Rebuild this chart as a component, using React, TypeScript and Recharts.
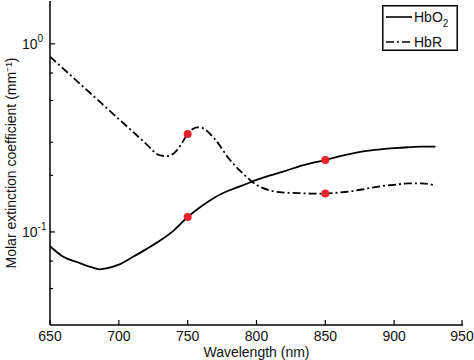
import { ComposedChart, Line, Scatter, XAxis, YAxis } from 'recharts'

// absorption spectra (mm^-1)
const hbo2Wavelengths = [650, 660, 670, 680, 686, 690, 700, 710, 720, 730, 740, 750, 760, 770, 780, 790, 800, 810, 820, 830, 840, 850, 860, 870, 880, 890, 900, 910, 920, 930]
const hbo2Values = [0.084, 0.0735, 0.069, 0.065, 0.0633, 0.0638, 0.067, 0.0735, 0.081, 0.09, 0.102, 0.12, 0.137, 0.153, 0.166, 0.177, 0.189, 0.2, 0.21, 0.222, 0.232, 0.241, 0.252, 0.262, 0.27, 0.275, 0.279, 0.282, 0.284, 0.284]

const hbrWavelengths = [650, 660, 670, 680, 690, 700, 710, 720, 727, 730, 735, 740, 745, 750, 757, 760, 770, 780, 790, 800, 810, 820, 830, 840, 850, 860, 870, 880, 890, 900, 910, 920, 930]
const hbrValues = [0.855, 0.734, 0.63, 0.541, 0.464, 0.398, 0.342, 0.293, 0.262, 0.255, 0.253, 0.262, 0.29, 0.332, 0.36, 0.358, 0.31, 0.245, 0.205, 0.178, 0.166, 0.162, 0.161, 0.16, 0.16, 0.162, 0.165, 0.17, 0.175, 0.178, 0.181, 0.181, 0.177]

// wavelengths highlighted with red markers
const markerWavelengths = [750, 850]

const xTicks = [650, 700, 750, 800, 850, 900, 950]
const yMajorTicks = [0.1, 1]
const yMinorTicks = [0.04, 0.05, 0.06, 0.07, 0.08, 0.09, 0.2, 0.3, 0.4, 0.5, 0.6, 0.7, 0.8, 0.9]

const hbo2Data = hbo2Wavelengths.map((w, i) => ({ w, v: hbo2Values[i] }))
const hbrData = hbrWavelengths.map((w, i) => ({ w, v: hbrValues[i] }))
const markerData = markerWavelengths.flatMap((w) => [
  { w, v: hbo2Values[hbo2Wavelengths.indexOf(w)] },
  { w, v: hbrValues[hbrWavelengths.indexOf(w)] },
])

const yTicks = [...yMinorTicks, ...yMajorTicks].sort((a, b) => a - b)

const FONT = '"Liberation Sans", Arial, sans-serif'
const DASH_DOT = '8 3 2 3'

const BottomTick = (props: any) => {
  const { x, y, payload } = props
  return (
    <g>
      <line x1={x} y1={y} x2={x} y2={y - 5} stroke="#000" strokeWidth={1.2} />
      <text x={x} y={y + 16} textAnchor="middle" fontSize={14} fontFamily={FONT} fill="#111">
        {payload.value}
      </text>
    </g>
  )
}

const TopTick = (props: any) => {
  const { x, y } = props
  return <line x1={x} y1={y} x2={x} y2={y + 5} stroke="#000" strokeWidth={1.2} />
}

const LeftTick = (props: any) => {
  const { x, y, payload } = props
  const major = yMajorTicks.includes(payload.value)
  return (
    <g>
      <line x1={x} y1={y} x2={x + (major ? 5 : 3)} y2={y} stroke="#000" strokeWidth={1.2} />
      {major && (
        <text x={22} y={y + 5} fontSize={14} fontFamily={FONT} fill="#111">
          10
          <tspan dy={-7} fontSize={10}>
            {Math.round(Math.log10(payload.value))}
          </tspan>
        </text>
      )}
    </g>
  )
}

const RightTick = (props: any) => {
  const { x, y, payload } = props
  const major = yMajorTicks.includes(payload.value)
  return <line x1={x} y1={y} x2={x - (major ? 5 : 3)} y2={y} stroke="#000" strokeWidth={1.2} />
}

const LegendBox = () => (
  <svg width={76} height={46} style={{ position: 'absolute', left: 382, top: 5 }}>
    <rect x={0.75} y={0.75} width={74.5} height={44.5} fill="#fff" stroke="#000" strokeWidth={1.5} />
    <line x1={4} y1={12} x2={30} y2={12} stroke="#000" strokeWidth={1.6} />
    <text x={32} y={17} fontSize={14} fontFamily={FONT} fill="#111">
      HbO<tspan dy={5} fontSize={10}>2</tspan>
    </text>
    <line x1={4} y1={37} x2={30} y2={37} stroke="#000" strokeWidth={1.6} strokeDasharray={DASH_DOT} />
    <text x={32} y={42} fontSize={14} fontFamily={FONT} fill="#111">
      HbR
    </text>
  </svg>
)

export default function App() {
  return (
    <div style={{ position: 'absolute', left: 0, top: 0, width: 474, height: 360, background: '#fff' }}>
      <ComposedChart width={474} height={360} margin={{ top: 1, right: 11, bottom: 0, left: 0 }}>
        <XAxis
          dataKey="w"
          type="number"
          domain={[650, 950]}
          ticks={xTicks}
          allowDataOverflow
          height={35}
          tickSize={0}
          tickMargin={0}
          tickLine={false}
          tick={<BottomTick />}
          axisLine={{ stroke: '#000', strokeWidth: 1.5 }}
          label={{ value: 'Wavelength (nm)', position: 'insideBottom', offset: 3, fontSize: 14, fontFamily: FONT, fill: '#111' }}
        />
        <XAxis
          xAxisId="top"
          orientation="top"
          dataKey="w"
          type="number"
          domain={[650, 950]}
          ticks={xTicks}
          allowDataOverflow
          height={0}
          tickSize={0}
          tickMargin={0}
          tickLine={false}
          tick={<TopTick />}
          axisLine={{ stroke: '#000', strokeWidth: 1.5 }}
        />
        <YAxis
          type="number"
          scale="log"
          domain={[0.032, 1.69]}
          ticks={yTicks}
          allowDataOverflow
          width={50}
          tickSize={0}
          tickMargin={0}
          tickLine={false}
          tick={<LeftTick />}
          axisLine={{ stroke: '#000', strokeWidth: 1.5 }}
          label={{
            value: 'Molar extinction coefficient (mm\u207B\u00B9)',
            angle: -90,
            position: 'insideLeft',
            offset: 11,
            style: { textAnchor: 'middle' },
            fontSize: 14,
            fontFamily: FONT,
            fill: '#111',
          }}
        />
        <YAxis
          yAxisId="right"
          orientation="right"
          type="number"
          scale="log"
          domain={[0.032, 1.69]}
          ticks={yTicks}
          allowDataOverflow
          width={0}
          tickSize={0}
          tickMargin={0}
          tickLine={false}
          tick={<RightTick />}
          axisLine={{ stroke: '#000', strokeWidth: 1.5 }}
        />
        <Line
          data={hbo2Data}
          dataKey="v"
          name="HbO2"
          type="monotone"
          stroke="#000"
          strokeWidth={1.8}
          dot={false}
          isAnimationActive={false}
        />
        <Line
          data={hbrData}
          dataKey="v"
          name="HbR"
          type="monotone"
          stroke="#000"
          strokeWidth={1.8}
          strokeDasharray={DASH_DOT}
          dot={false}
          isAnimationActive={false}
        />
        <Scatter
          data={markerData}
          dataKey="v"
          xAxisId="top"
          yAxisId="right"
          fill="#e3222b"
          shape={(p: any) => <circle cx={p.cx} cy={p.cy} r={4} fill="#e3222b" />}
          legendType="none"
          isAnimationActive={false}
        />
      </ComposedChart>
      <LegendBox />
    </div>
  )
}
